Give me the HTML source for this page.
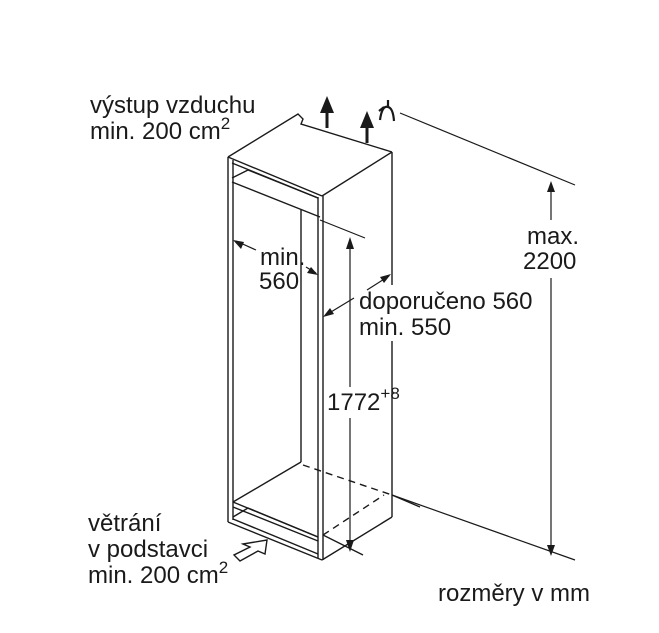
<!DOCTYPE html>
<html><head><style>
html,body{margin:0;padding:0;background:#fff;}
svg{display:block}
text{font-family:"Liberation Sans",sans-serif;font-size:24px;fill:#1a1a1a}
</style></head><body>
<svg width="659" height="633" viewBox="0 0 659 633">
<g stroke="#1a1a1a" stroke-width="1.4" fill="none">
<polyline points="228,157 298,114 303,119 301,124 392,152"/>
<line x1="228" y1="157" x2="322" y2="196"/>
<line x1="322" y1="196" x2="392" y2="152"/>
<line x1="232" y1="163" x2="318" y2="198"/>
<line x1="232" y1="182" x2="320" y2="217"/>
<line x1="232" y1="178" x2="248" y2="170"/>
<line x1="248" y1="170" x2="318" y2="198"/>
<line x1="228" y1="157" x2="228" y2="522"/>
<line x1="233" y1="160" x2="233" y2="520"/>
<line x1="318" y1="197" x2="318" y2="558"/>
<line x1="323" y1="196" x2="323" y2="560"/>
<line x1="301" y1="210" x2="301" y2="462"/>
<line x1="392" y1="152" x2="392" y2="285"/>
<line x1="392" y1="341" x2="392" y2="517"/>
<line x1="233" y1="502" x2="301" y2="462"/>
<line x1="233" y1="502" x2="318" y2="537"/>
<line x1="233" y1="507" x2="318" y2="541"/>
<line x1="233" y1="517" x2="248" y2="508"/>
<line x1="248" y1="508" x2="318" y2="537"/>
<line x1="228" y1="522" x2="322" y2="560"/>
<line x1="233" y1="519" x2="318" y2="554"/>
<line x1="322" y1="560" x2="392" y2="517"/>
<line x1="323" y1="535" x2="363" y2="555"/>
<line x1="392" y1="495" x2="420" y2="507"/>
</g>
<g stroke="#1a1a1a" stroke-width="1.4" fill="none" stroke-dasharray="7,5">
<line x1="303" y1="465" x2="392" y2="495"/>
<line x1="323" y1="535" x2="384" y2="495"/>
</g>
<g stroke="#1a1a1a" stroke-width="1.2" fill="none">
<line x1="320" y1="220" x2="365" y2="238"/>
<line x1="350" y1="242" x2="350" y2="387"/>
<line x1="350" y1="418" x2="350" y2="548"/>
<line x1="400" y1="113" x2="575" y2="185"/>
<line x1="392" y1="495" x2="575" y2="560"/>
<line x1="551" y1="186" x2="551" y2="220"/>
<line x1="551" y1="278" x2="551" y2="552"/>
<line x1="236" y1="241" x2="256" y2="250"/>
<line x1="306" y1="267" x2="316" y2="273"/>
<line x1="326" y1="315" x2="354" y2="298"/>
<line x1="367" y1="290" x2="389" y2="276"/>
</g>
<g fill="#1a1a1a">
<polygon points="350,237 346,249 354,249"/>
<polygon points="350,552 346,540 354,540"/>
<polygon points="551,181 547,192 555,192"/>
<polygon points="551,556 547,545 555,545"/>
<polygon points="233,240 244,242 241,249"/>
<polygon points="318,275 307,273 311,267"/>
<polygon points="323,317 330,308 334,314"/>
<polygon points="391,274 384,283 380,277"/>
<polygon points="327,96 320,113 334,113"/>
<rect x="325.5" y="110" width="3" height="18"/>
<polygon points="367,111 360,128 374,128"/>
<rect x="365.5" y="125" width="3" height="18"/>
</g>
<g stroke="#1a1a1a" stroke-width="2.2" fill="none">
<line x1="388" y1="100" x2="388" y2="108"/>
<path d="M380,120 Q382,105 388,107 Q393,108 394,121"/>
<line x1="379" y1="111" x2="384" y2="107"/>
</g>
<polygon points="243,544 267,540 265,554 258,551 240,561 234,555 250,547" fill="#fff" stroke="#1a1a1a" stroke-width="1.4"/>
<text x="90" y="113">výstup vzduchu</text>
<text x="90" y="139">min. 200 cm<tspan font-size="17" dy="-10">2</tspan></text>
<text x="260" y="265">min.</text>
<text x="259" y="289">560</text>
<text x="359" y="309">doporučeno 560</text>
<text x="359" y="335">min. 550</text>
<text x="327" y="410">1772<tspan font-size="17" dy="-11">+8</tspan></text>
<text x="527" y="244">max.</text>
<text x="523" y="269">2200</text>
<text x="88" y="531">větrání</text>
<text x="88" y="557">v podstavci</text>
<text x="88" y="583">min. 200 cm<tspan font-size="17" dy="-10">2</tspan></text>
<text x="438" y="601">rozměry v mm</text>
</svg>
</body></html>
